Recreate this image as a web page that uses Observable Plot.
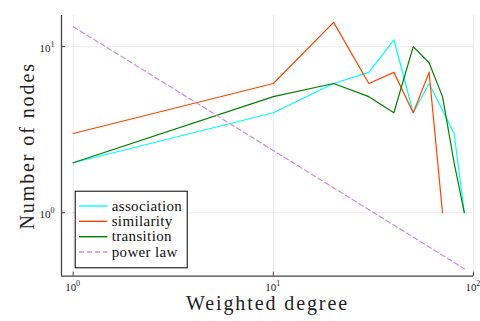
<!DOCTYPE html>
<html><head><meta charset="utf-8">
<script src="https://cdn.jsdelivr.net/npm/d3@7"></script>
<script src="https://cdn.jsdelivr.net/npm/@observablehq/plot@0.6"></script>
<style>html,body{margin:0;padding:0;background:#fff} svg{display:block} svg text{font-family:"Liberation Serif","DejaVu Serif" !important}</style>
</head><body><div id="chart"></div>
<script>
const degree = [1, 10, 20, 30, 40, 50, 60, 70, 80, 90];
const association = [2, 4, 6, 7, 11, 4, 6, 0, 3, 1];
const similarity = [3, 6, 14, 6, 7, 4, 7, 1, 0, 0];
const transition = [2, 5, 6, 5, 4, 10, 8, 5, 2, 1];
const powerLawDegree = [1, 90];
const powerLawNodes = [13.2, 0.46];
const seriesNames = ["association", "similarity", "transition", "power law"];
const seriesColors = ["#00ffff", "#ff4500", "#008000", "#d18ce0"];
const xTicks = [1, 10, 100];
const yTicks = [1, 10];
const xLabel = "Weighted degree";
const yLabel = "Number of nodes";

const rows = [];
[association, similarity, transition].forEach((vals, i) =>
  degree.forEach((d, j) => { if (vals[j] > 0) rows.push({series: seriesNames[i], degree: d, nodes: vals[j]}); }));
const powerRows = powerLawDegree.map((d, i) => ({series: "power law", degree: d, nodes: powerLawNodes[i]}));

const W = 480, H = 321, mL = 61, mR = 7, mT = 15, mB = 45.3;
const plotW = W - mL - mR, plotH = H - mT - mB;
const xDomain = [0.874, 100], yDomain = [0.415, 15.4];
const font = "'Liberation Serif', 'DejaVu Serif'";
const axisColor = "#444";
const exp = d => String(Math.round(Math.log10(d)));

const plot = Plot.plot({
  width: W, height: H, marginLeft: mL, marginRight: mR, marginTop: mT, marginBottom: mB,
  style: {fontFamily: font, background: "white", color: "#222"},
  x: {type: "log", domain: xDomain, axis: null},
  y: {type: "log", domain: yDomain, axis: null},
  color: {domain: seriesNames, range: seriesColors},
  marks: [
    Plot.ruleX(xTicks, {stroke: "#000", strokeOpacity: 0.1, strokeWidth: 0.8}),
    Plot.ruleY(yTicks, {stroke: "#000", strokeOpacity: 0.1, strokeWidth: 0.8}),
    Plot.line(rows, {x: "degree", y: "nodes", z: "series", stroke: "series", strokeWidth: 1.2}),
    Plot.line(powerRows, {x: "degree", y: "nodes", stroke: "series", strokeWidth: 1.2, strokeDasharray: "5,3"}),
    Plot.ruleX([xDomain[0]], {stroke: axisColor, strokeWidth: 1.3}),
    Plot.ruleY([yDomain[0]], {stroke: axisColor, strokeWidth: 1.3}),
    Plot.ruleX(xTicks, {insetTop: plotH - 4, stroke: axisColor, strokeWidth: 1}),
    Plot.ruleY(yTicks, {insetRight: plotW - 4, stroke: axisColor, strokeWidth: 1}),
    Plot.text(xTicks, {x: d => d, text: () => "10", frameAnchor: "bottom", textAnchor: "middle", dy: 14.5, dx: -2.5, fontSize: 11}),
    Plot.text(xTicks, {x: d => d, text: exp, frameAnchor: "bottom", textAnchor: "middle", dy: 10, dx: 4.8, fontSize: 8}),
    Plot.text(yTicks, {y: d => d, text: () => "10", frameAnchor: "left", textAnchor: "middle", dx: -16.5, dy: 2, fontSize: 11}),
    Plot.text(yTicks, {y: d => d, text: exp, frameAnchor: "left", textAnchor: "middle", dx: -9, dy: -2.3, fontSize: 8}),
    Plot.text([xLabel], {text: d => d, frameAnchor: "bottom", textAnchor: "middle", dy: 34, fontSize: 20}),
    Plot.text([yLabel], {text: d => d, frameAnchor: "left", textAnchor: "middle", dx: -33.5, rotate: -90, fontSize: 20}),
    Plot.frame({fill: "white", stroke: "#000", strokeWidth: 1,
      insetLeft: 13.7, insetRight: 473 - 186.7, insetTop: 190.7 - mT, insetBottom: (H - mB) - 267.3})
  ]
});

const svg = d3.select(plot);
svg.selectAll("text").filter(function() { return this.textContent === xLabel || this.textContent === yLabel; })
  .attr("letter-spacing", "1.9px");

// legend rows
const legendY0 = 206, legendStep = 15.35;
const lg = svg.append("g").attr("fill", "#111").attr("text-anchor", "start");
seriesNames.forEach((name, i) => {
  const y = legendY0 + i * legendStep;
  lg.append("line").attr("x1", 79).attr("x2", 107.3).attr("y1", y).attr("y2", y)
    .attr("stroke", seriesColors[i]).attr("stroke-width", 1.4)
    .attr("stroke-dasharray", name === "power law" ? "5,3" : null);
  lg.append("text").attr("x", 111.7).attr("y", y + 4.7).attr("text-anchor", "start")
    .style("font-family", font).style("font-size", "15px").attr("letter-spacing", "0.35px").text(name);
});

document.getElementById("chart").appendChild(plot);
</script>
</body></html>
